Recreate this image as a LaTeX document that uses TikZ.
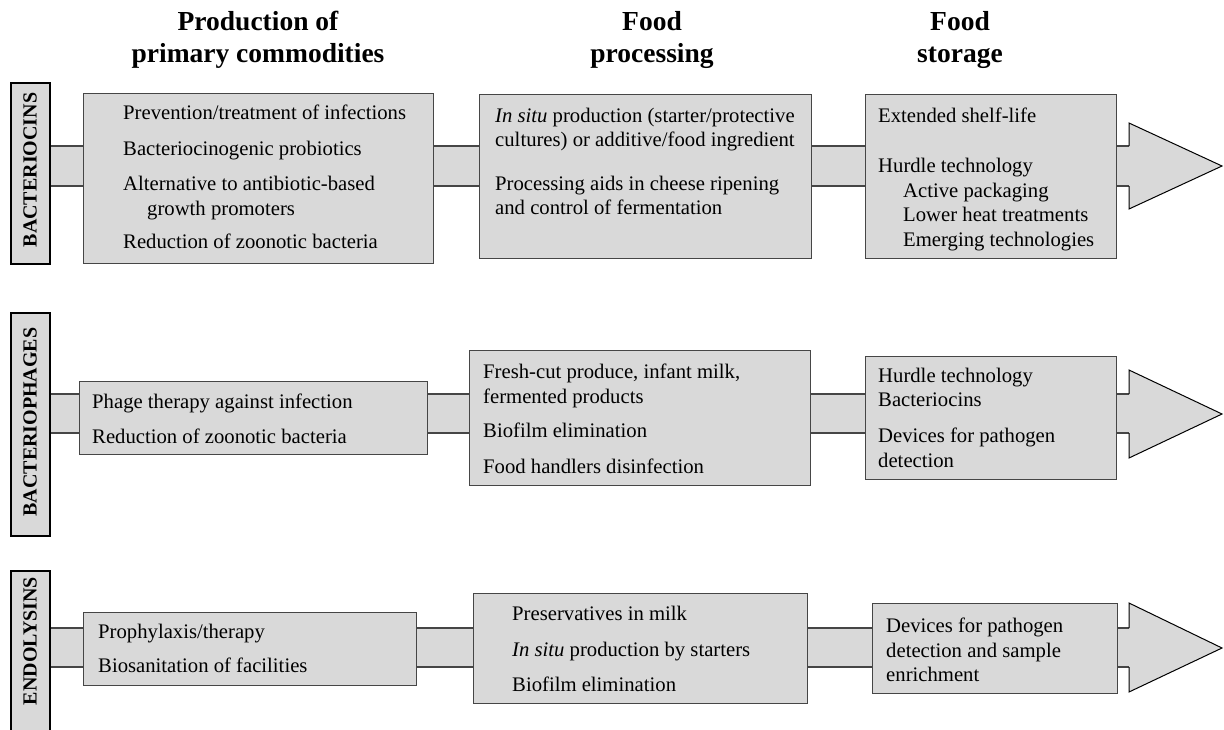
\documentclass[tikz,border=0pt]{standalone}
\usepackage{fontspec}
\setmainfont{Liberation Serif}
\definecolor{boxfill}{RGB}{217,217,217}
\definecolor{boxline}{RGB}{70,70,70}
\begin{document}
\begin{tikzpicture}[x=1pt,y=-1pt,
  box/.style={draw=boxline, fill=boxfill, line width=1.1pt, inner sep=0pt, anchor=north west},
  lab/.style={draw=black, fill=boxfill, line width=1.8pt, inner sep=0pt, anchor=north west, minimum width=39pt},
  labtxt/.style={rotate=90, inner sep=0pt, font=\bfseries\fontsize{20}{24}\selectfont},
  txt/.style={anchor=base west, inner sep=0pt, font=\fontsize{20.7}{24}\selectfont},
  hdr/.style={anchor=base, inner sep=0pt, font=\bfseries\fontsize{27.5}{32}\selectfont},
  barline/.style={draw=boxline, line width=1.3pt},
  head/.style={draw=black, fill=boxfill, line width=1pt, line join=miter}]
\useasboundingbox (0,0) rectangle (1224,729);

% headers
\node[hdr] (h1a) at (258,30) {Production of};
\node[hdr] (h1b) at (258,62) {primary commodities};
\node[hdr] (h2a) at (652,30) {Food};
\node[hdr] (h2b) at (652,62) {processing};
\node[hdr] (h3a) at (960,30) {Food};
\node[hdr] (h3b) at (960,62) {storage};

% ---------- label boxes
\node[lab, minimum height=181pt] (l1) at (10,82) {};
\node[lab, minimum height=223pt] (l2) at (10,312) {};
\node[lab, minimum height=170pt] (l3) at (10,570) {};

% ---------- row coordinates
\coordinate (r1t) at (0,146); \coordinate (r1b) at (0,186);
\coordinate (r2t) at (0,394); \coordinate (r2b) at (0,433);
\coordinate (r3t) at (0,628); \coordinate (r3b) at (0,667);
% arrow heads
\coordinate (a1s) at (1129,146); \coordinate (a1ht) at (1129,123); \coordinate (a1tip) at (1222,166); \coordinate (a1hb) at (1129,209); \coordinate (a1sb) at (1129,186);
\coordinate (a2s) at (1129,394); \coordinate (a2ht) at (1129,370); \coordinate (a2tip) at (1222,414); \coordinate (a2hb) at (1129,458); \coordinate (a2sb) at (1129,433);
\coordinate (a3s) at (1129,628); \coordinate (a3ht) at (1129,603); \coordinate (a3tip) at (1222,648); \coordinate (a3hb) at (1129,692); \coordinate (a3sb) at (1129,667);

% band fills
\fill[boxfill] (l1.east |- r1t) rectangle (a1sb);
\fill[boxfill] (l2.east |- r2t) rectangle (a2sb);
\fill[boxfill] (l3.east |- r3t) rectangle (a3sb);

% ---------- boxes (positions only, to get anchors)
\path
  (83,93)   node[box, minimum width=350pt, minimum height=170pt] (b11) {}
  (479,94)  node[box, minimum width=332pt, minimum height=164pt] (b12) {}
  (865,94)  node[box, minimum width=251pt, minimum height=164pt] (b13) {}
  (79,381)  node[box, minimum width=348pt, minimum height=73pt]  (b21) {}
  (469,350) node[box, minimum width=341pt, minimum height=135pt] (b22) {}
  (865,356) node[box, minimum width=251pt, minimum height=123pt] (b23) {}
  (83,612)  node[box, minimum width=333pt, minimum height=73pt]  (b31) {}
  (473,593) node[box, minimum width=334pt, minimum height=110pt] (b32) {}
  (872,603) node[box, minimum width=245pt, minimum height=90pt]  (b33) {};

% band lines between nodes
\foreach \r/\a/\b/\c/\ar in {1/b11/b12/b13/a1s,2/b21/b22/b23/a2s,3/b31/b32/b33/a3s}{
  \draw[barline] (l\r.east |- r\r t) -- (\a.west |- r\r t) (l\r.east |- r\r b) -- (\a.west |- r\r b);
  \draw[barline] (\a.east |- r\r t) -- (\b.west |- r\r t) (\a.east |- r\r b) -- (\b.west |- r\r b);
  \draw[barline] (\b.east |- r\r t) -- (\c.west |- r\r t) (\b.east |- r\r b) -- (\c.west |- r\r b);
  \draw[barline] (\c.east |- r\r t) -- (\ar) (\c.east |- r\r b) -- (\ar |- r\r b);
}

% redraw boxes on top of band
\path
  (83,93)   node[box, minimum width=350pt, minimum height=170pt] {}
  (479,94)  node[box, minimum width=332pt, minimum height=164pt] {}
  (865,94)  node[box, minimum width=251pt, minimum height=164pt] {}
  (79,381)  node[box, minimum width=348pt, minimum height=73pt]  {}
  (469,350) node[box, minimum width=341pt, minimum height=135pt] {}
  (865,356) node[box, minimum width=251pt, minimum height=123pt] {}
  (83,612)  node[box, minimum width=333pt, minimum height=73pt]  {}
  (473,593) node[box, minimum width=334pt, minimum height=110pt] {}
  (872,603) node[box, minimum width=245pt, minimum height=90pt]  {};

% arrow heads
\filldraw[head] (a1s) -- (a1ht) -- (a1tip) -- (a1hb) -- (a1sb);
\filldraw[head] (a2s) -- (a2ht) -- (a2tip) -- (a2hb) -- (a2sb);
\filldraw[head] (a3s) -- (a3ht) -- (a3tip) -- (a3hb) -- (a3sb);

% label texts
\node[labtxt] (l1t) at (30,170) {BACTERIOCINS};
\node[labtxt] (l2t) at (30,422) {BACTERIOPHAGES};
\node[labtxt] (l3t) at (30,641) {ENDOLYSINS};

% ---------- texts row 1
\node[txt] (t11a) at (123,119) {Prevention/treatment of infections};
\node[txt] (t11b) at (123,155) {Bacteriocinogenic probiotics};
\node[txt] (t11c) at (123,190) {Alternative to antibiotic-based};
\node[txt] (t11d) at (147,215) {growth promoters};
\node[txt] (t11e) at (123,248) {Reduction of zoonotic bacteria};

\node[txt] (t12a) at (495,122) {\textit{In situ} production (starter/protective};
\node[txt] (t12b) at (495,146) {cultures) or additive/food ingredient};
\node[txt] (t12c) at (495,190) {Processing aids in cheese ripening};
\node[txt] (t12d) at (495,214) {and control of fermentation};

\node[txt] (t13a) at (878,122) {Extended shelf-life};
\node[txt] (t13b) at (878,172) {Hurdle technology};
\node[txt] (t13c) at (903,197) {Active packaging};
\node[txt] (t13d) at (903,221) {Lower heat treatments};
\node[txt] (t13e) at (903,246) {Emerging technologies};

% ---------- texts row 2
\node[txt] (t21a) at (92,408) {Phage therapy against infection};
\node[txt] (t21b) at (92,443) {Reduction of zoonotic bacteria};

\node[txt] (t22a) at (483,378) {Fresh-cut produce, infant milk,};
\node[txt] (t22b) at (483,403) {fermented products};
\node[txt] (t22c) at (483,437) {Biofilm elimination};
\node[txt] (t22d) at (483,473) {Food handlers disinfection};

\node[txt] (t23a) at (878,382) {Hurdle technology};
\node[txt] (t23b) at (878,406) {Bacteriocins};
\node[txt] (t23c) at (878,442) {Devices for pathogen};
\node[txt] (t23d) at (878,467) {detection};

% ---------- texts row 3
\node[txt] (t31a) at (98,638) {Prophylaxis/therapy};
\node[txt] (t31b) at (98,672) {Biosanitation of facilities};

\node[txt] (t32a) at (512,620) {Preservatives in milk};
\node[txt] (t32b) at (512,656) {\textit{In situ} production by starters};
\node[txt] (t32c) at (512,691) {Biofilm elimination};

\node[txt] (t33a) at (886,632) {Devices for pathogen};
\node[txt] (t33b) at (886,657) {detection and sample};
\node[txt] (t33c) at (886,681) {enrichment};
\end{tikzpicture}
\end{document}
